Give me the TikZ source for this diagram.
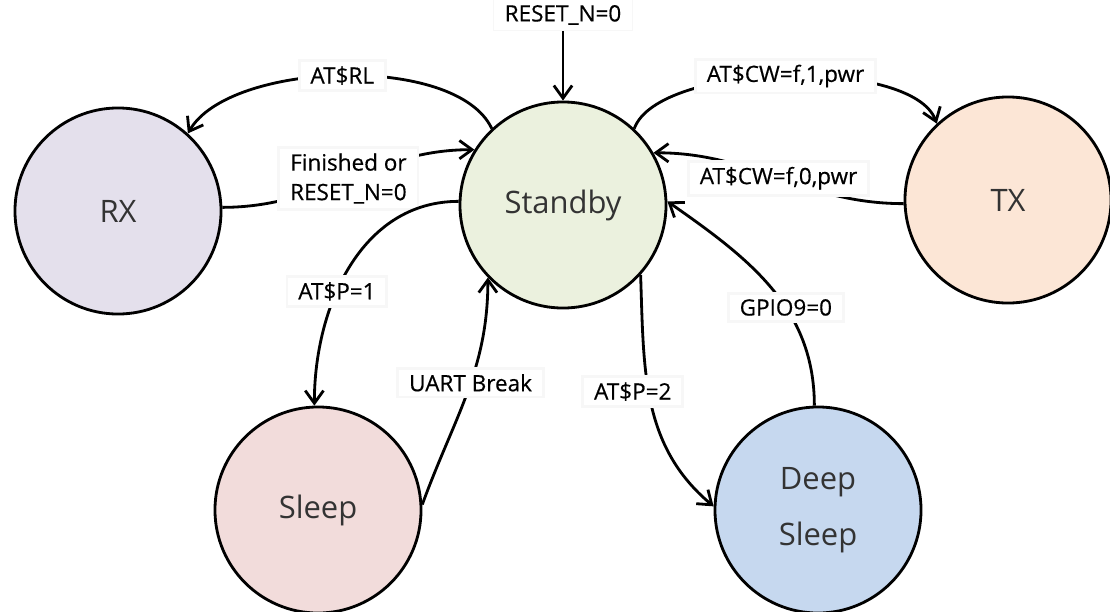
\documentclass[tikz,border=0pt]{standalone}
\usepackage{fontspec}
\setmainfont{Open Sans}
\usetikzlibrary{arrows.meta}

\definecolor{rxfill}{HTML}{E4E0EC}
\definecolor{standbyfill}{HTML}{EBF1DE}
\definecolor{txfill}{HTML}{FCE6D6}
\definecolor{sleepfill}{HTML}{F2DCDB}
\definecolor{deepfill}{HTML}{C6D8EF}

\begin{document}
\begin{tikzpicture}[x=0.025cm,y=0.025cm,
    state/.style={draw,circle,line width=2pt,minimum size=5.15cm,text=black!80,font=\fontsize{22}{40}\selectfont},
    lbl/.style={fill=white,draw=black!3,inner xsep=8pt,inner ysep=4pt,align=center,font=\fontsize{16}{21}\selectfont\addfontfeature{FakeBold=0.5}},
    edge/.style={line width=2pt,-{Straight Barb[length=9pt,width=13pt]}}]
          \path[fill=white,use as bounding box] (0,0) rectangle (1110,-611);
          \node[state,fill=rxfill] (rx) at (118,-211) {RX};
          \node[state,fill=standbyfill] (standby) at (563,-205) {Standby};
          \node[state,fill=txfill] (tx) at (1008,-200) {TX};
          \node[state,fill=sleepfill] (sleep) at (318,-510) {Sleep};
          \node[state,fill=deepfill,align=center] (deepsleep) at (818,-510) {Deep\\Sleep};
          \node[lbl] (resetlbl) at (563,-15) {RESET\_N=0};
          \draw[edge] (resetlbl) -- (standby);
          \draw[edge] (standby.133) to[out=115,in=60,looseness=0.7] node[lbl] {AT\$RL} (rx.48);
          \draw[edge] (rx.2) to[out=0,in=180] node[lbl] {Finished or\\RESET\_N=0} (standby.148);
          \draw[edge] (standby.47) to[out=70,in=110,looseness=0.6] node[lbl] {AT\$CW=f,1,pwr} (tx.133);
          \draw[edge] (tx.182) to[out=180,in=0] node[lbl] {AT\$CW=f,0,pwr} (standby.30);
          \draw[edge] (standby.178) to[out=180,in=90] node[lbl,pos=0.6] {AT\$P=1} (sleep.92);
          \draw[edge] (sleep.3) to[out=70,in=-90] node[lbl,pos=0.55] {UART Break} (standby.224);
          \draw[edge] (standby.-42) to[out=-88,in=140] node[lbl,pos=0.45,xshift=-0.4cm] {AT\$P=2} (deepsleep.178);
          \draw[edge] (deepsleep.92) to[out=90,in=-35] node[lbl,pos=0.4] {GPIO9=0} (standby.2);
        \end{tikzpicture}
\end{document}
